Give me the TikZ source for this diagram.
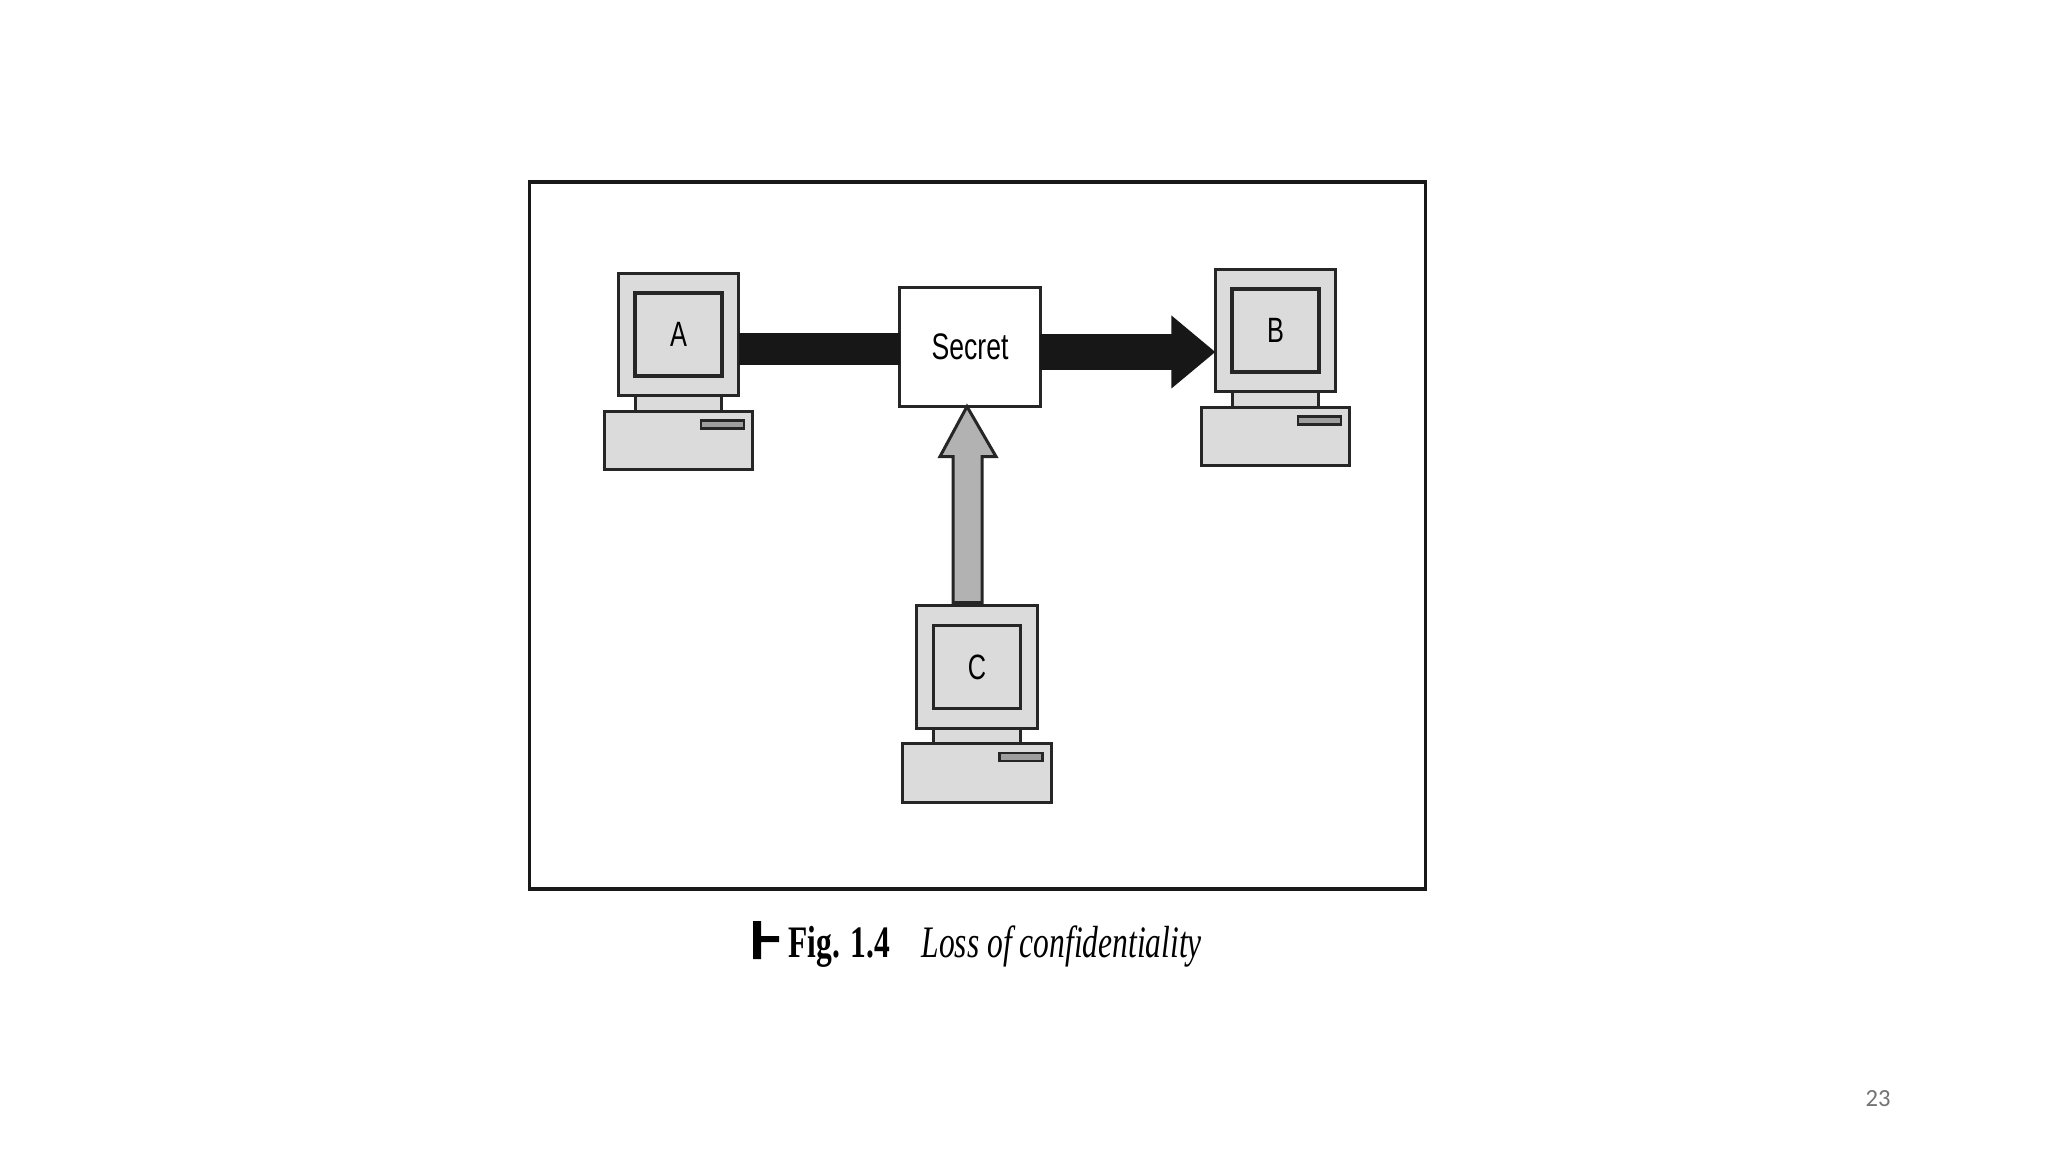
\documentclass[tikz,border=0pt]{standalone}
\usepackage{fontspec}
\usepackage{tikz}
\usetikzlibrary{calc}
\usetikzlibrary{arrows.meta}
\setmainfont{Liberation Serif}
\newfontfamily\labelfont[FakeStretch=0.72]{Liberation Sans}
\newfontfamily\captionfont[FakeStretch=0.7]{Liberation Serif}
\newfontfamily\pagefont{Carlito}
\definecolor{casegray}{gray}{0.86}
\definecolor{slotgray}{gray}{0.62}
\definecolor{arrowgray}{gray}{0.70}
\definecolor{barblack}{gray}{0.09}
\tikzset{
    part/.style={draw=black!85,line width=.03cm,fill=casegray,inner sep=0pt,outer sep=0pt},
    bar/.style={draw=barblack,-{Triangle[length=.44cm,width=.70cm]}},
    plainbar/.style={draw=barblack,line width=.32cm},
}
% monitor centre, name, label
\newcommand{\computer}[3]{
    \node[part,minimum width=.86cm,minimum height=.15cm] (neck#2) at ($(#1)+(0,69)$) {};
    \node[part,minimum width=1.48cm,minimum height=.58cm] (base#2) at ($(#1)+(0,106)$) {};
    \node[part,fill=slotgray,minimum width=.43cm,minimum height=.08cm,line width=.025cm] (slot#2) at ($(#1)+(44,90)$) {};
    \node[part,minimum width=1.20cm,minimum height=1.22cm] (mon#2) at (#1) {};
    \node[part,line width=.035cm,minimum width=.87cm,minimum height=.83cm,font=\fontsize{10}{12}\labelfont] (screen#2) at (#1) {#3};
}
\begin{document}
\begin{tikzpicture}[x=.01cm,y=-.01cm]
    \useasboundingbox (0,0) rectangle (2048,1152);
    \node[draw=black!90,line width=.035cm,minimum width=8.95cm,minimum height=7.07cm,inner sep=0pt] (frame) at (977.5,535.5) {};

    \coordinate (A) at (678.5,334.5);
    \coordinate (B) at (1275.5,330.5);
    \coordinate (C) at (977,667);

    \node[part,fill=white,minimum width=1.40cm,minimum height=1.19cm,font=\fontsize{10.5}{12}\labelfont] (secret) at (970,347) {Secret};

    \computer{A}{A}{A}
    \computer{B}{B}{B}
    \computer{C}{C}{C}

    \draw[plainbar] ($(monA.east)+(0,14.5)$) -- ($(secret.west)+(0,2)$);
    \draw[bar,line width=.36cm] ($(secret.east)+(0,5)$) -- ($(monB.west)+(0,21.5)$);

    \coordinate (tipC) at ($(secret.south)+(-3,0)$);
    \draw[part,fill=arrowgray] (tipC) -- ++(-27,50) -- ++(13,0) -- ++(0,146) -- ++(29,0) -- ++(0,-146) -- ++(14,0) -- cycle;

    \fill (753,921) rectangle (761,959) (761,936) rectangle (779,942);
    \node[anchor=base west,inner sep=0pt,font=\fontsize{12.8}{14}\captionfont\bfseries] (figno) at (788,957) {Fig. 1.4};
    \node[anchor=base west,inner sep=0pt,font=\fontsize{12.8}{14}\captionfont\itshape] (figtitle) at (921,957) {Loss of confidentiality};
    \node[text=black!55,inner sep=0pt,font=\fontsize{7}{8}\pagefont] (pageno) at (1878,1098.5) {23};
\end{tikzpicture}
\end{document}
